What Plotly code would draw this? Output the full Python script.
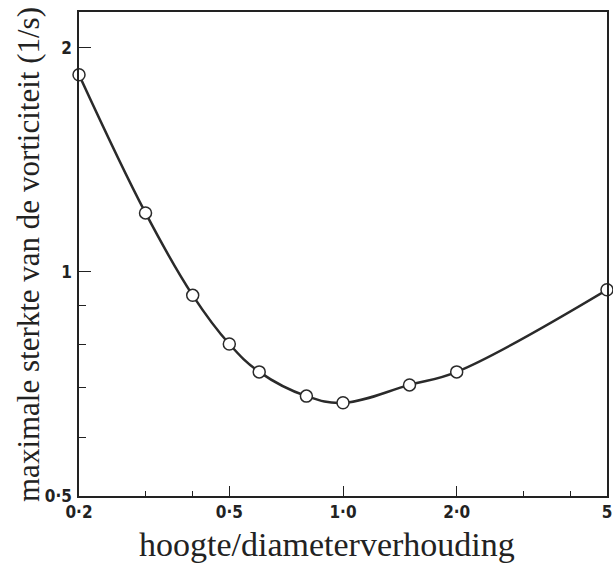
import plotly.graph_objects as go

# data (log-log plot)
ratio = [0.2, 0.3, 0.4, 0.5, 0.6, 0.8, 1.0, 1.5, 2.0, 5.0]
vorticity = [1.84, 1.20, 0.93, 0.80, 0.734, 0.681, 0.667, 0.705, 0.734, 0.946]

x_tickvals = [0.2, 0.5, 1.0, 2.0, 5.0]
x_ticktext = ["0·2", "0·5", "1·0", "2·0", "5"]
x_minor = [0.3, 0.4, 3.0, 4.0]
y_tickvals = [0.5, 1.0, 2.0]
y_ticktext = ["0·5", "1", "2"]
y_minor = [0.6, 0.7, 0.8, 0.9]

fig = go.Figure()
fig.add_trace(go.Scatter(
    x=ratio, y=vorticity, mode="lines+markers",
    line=dict(color="#2a2a2a", width=2.5, shape="spline", smoothing=1.1),
    marker=dict(symbol="circle", size=12, color="white",
                line=dict(color="#2a2a2a", width=1.5)),
    cliponaxis=False, showlegend=False,
))

tickfont = dict(family="Liberation Sans Narrow, DejaVu Sans Condensed, sans-serif",
                size=17, color="#222", weight="bold")
fig.update_xaxes(
    type="log", range=[-0.699, 0.699], automargin=False,
    tickvals=x_tickvals, ticktext=x_ticktext,
    ticks="inside", ticklen=10, tickwidth=1.3, tickcolor="#222",
    minor=dict(tickvals=x_minor, ticks="inside", ticklen=5, tickwidth=1.2, tickcolor="#222"),
    showline=True, linecolor="#222", linewidth=1.5, mirror=True,
    showgrid=False, zeroline=False, tickfont=tickfont, ticklabelstandoff=0,
)
fig.update_yaxes(
    type="log", range=[-0.301, 0.349], automargin=False,
    tickvals=y_tickvals, ticktext=y_ticktext,
    ticks="inside", ticklen=12, tickwidth=1.3, tickcolor="#222",
    minor=dict(tickvals=y_minor, ticks="inside", ticklen=7, tickwidth=1.2, tickcolor="#222"),
    showline=True, linecolor="#222", linewidth=1.5, mirror=True,
    showgrid=False, zeroline=False, tickfont=tickfont, ticklabelstandoff=2,
)
fig.add_annotation(
    text="hoogte/diameterverhouding", xref="paper", yref="paper",
    x=0.47, y=-0.101, xanchor="center", yanchor="middle", showarrow=False,
    font=dict(family="Liberation Serif", size=34, color="#222"),
)
fig.add_annotation(
    text="maximale sterkte van de vorticiteit (1/s)", xref="paper", yref="paper",
    x=-0.0966, y=0.5, xanchor="center", yanchor="middle", textangle=-90,
    showarrow=False,
    font=dict(family="Liberation Serif", size=31, color="#222"),
)
fig.update_layout(
    width=613, height=564,
    margin=dict(l=79, r=6, t=12, b=68),
    paper_bgcolor="white", plot_bgcolor="white",
)
fig.write_html("out.html", config={"displayModeBar": False},
               post_script="document.body.style.margin='0';document.body.style.overflow='hidden';")
